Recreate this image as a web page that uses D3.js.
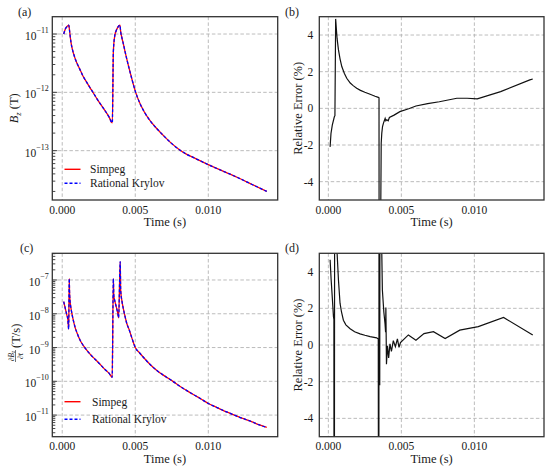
<!DOCTYPE html>
<html><head><meta charset="utf-8">
<script src="https://cdn.jsdelivr.net/npm/d3@7"></script>
<style>
body{margin:0;background:#fff}
svg{display:block}
</style>
</head><body>
<svg id="chart" width="550" height="468" font-family="Liberation Serif"></svg>
<script>
// ---------- data ----------
const xTickValues = [0, 0.005, 0.010];
const errTickValues = [4, 2, 0, -2, -4];
const legendLabels = ["Simpeg", "Rational Krylov"];
const panelLetters = ["(a)", "(b)", "(c)", "(d)"];

// (a) Bz (T)
const timeA = [0.0001,0.0002,0.0003,0.0004,0.00045,0.0005,0.00055,0.0006,0.0007,0.0008,0.0009,0.001,0.0012,0.0014,0.0017,0.002,0.0024,0.0028,0.0032,0.00343,
  0.0035,0.0036,0.0037,0.0038,0.0039,0.00395,0.004,0.0041,0.0042,0.0043,0.0044,0.0046,0.0048,0.005,0.0053,0.0056,0.006,0.0065,0.007,0.0075,0.008,0.0085,
  0.009,0.0095,0.010,0.011,0.012,0.013,0.014];
const bzSimpeg = [1.0e-11,1.2e-11,1.32e-11,1.4e-11,1.42e-11,1.15e-11,8.9e-12,7.2e-12,5.4e-12,4.4e-12,3.7e-12,3.2e-12,2.5e-12,1.95e-12,1.45e-12,1.1e-12,7.6e-13,5.4e-13,3.8e-13,3.0e-13,
  5e-12,9.5e-12,1.15e-11,1.3e-11,1.4e-11,1.42e-11,1.1e-11,8.3e-12,6.5e-12,5.0e-12,3.9e-12,2.45e-12,1.58e-12,1.05e-12,6.6e-13,4.7e-13,3.3e-13,2.35e-13,1.74e-13,1.32e-13,1.05e-13,8.7e-14,
  7.6e-14,6.6e-14,5.75e-14,4.47e-14,3.47e-14,2.63e-14,2.0e-14];
const bzKrylov = [1.0e-11,1.2e-11,1.32e-11,1.4e-11,1.42e-11,1.15e-11,8.9e-12,7.2e-12,5.4e-12,4.4e-12,3.7e-12,3.2e-12,2.5e-12,1.95e-12,1.45e-12,1.1e-12,7.6e-13,5.4e-13,3.8e-13,3.0e-13,
  5e-12,9.5e-12,1.15e-11,1.3e-11,1.4e-11,1.42e-11,1.1e-11,8.3e-12,6.5e-12,5.0e-12,3.9e-12,2.45e-12,1.58e-12,1.05e-12,6.6e-13,4.7e-13,3.3e-13,2.35e-13,1.74e-13,1.32e-13,1.05e-13,8.7e-14,
  7.6e-14,6.6e-14,5.75e-14,4.47e-14,3.47e-14,2.63e-14,2.0e-14];

// (b) relative error of Bz (%)
const timeB = [0.00012,0.00018,0.00027,0.00041,0.00045,0.0005,0.00057,0.0006,0.00069,0.0008,0.00092,0.0011,0.00126,0.0015,0.0017,0.00194,0.0022,0.0025,0.00286,0.0032,
  0.00342,0.00347,0.00349,0.00359,0.00362,0.00366,0.00371,0.00377,0.00382,0.00389,0.00394,0.004,0.0041,0.00418,0.0045,0.0049,0.0055,0.006,0.0068,0.0076,0.0088,
  0.0095,0.0102,0.0118,0.0138,0.014];
const errB = [-2.1,-1.37,-0.92,-0.46,-0.4,4.88,4.1,3.8,3.2,2.7,2.28,1.9,1.64,1.38,1.24,1.1,0.98,0.88,0.77,0.66,
  0.6,0.57,-30,-5.5,-1.9,-1.35,-1.0,-0.82,-0.7,-0.55,-0.68,-0.62,-0.68,-0.5,-0.37,-0.18,-0.02,0.13,0.26,0.36,0.55,
  0.55,0.52,0.91,1.55,1.6];

// (c) dBz/dt (T/s)
const timeC = [0.0001,0.00032,0.00038,0.00044,0.00048,0.0005,0.00053,0.00056,0.0006,0.0007,0.0008,0.0009,0.001,0.0012,0.00135,0.0016,0.0018,0.0021,0.0025,0.0029,0.0032,0.00342,
  0.0035,0.00353,0.0036,0.0037,0.0038,0.00386,0.00397,0.004,0.0041,0.0042,0.0043,0.0044,0.0046,0.0048,0.005,0.0053,0.0056,0.006,0.0065,0.007,0.0076,0.008,0.0085,0.009,
  0.0095,0.010,0.0105,0.011,0.0115,0.012,0.0125,0.013,0.0135,0.014];
const dbdtSimpeg = [2.3e-8,9e-9,7e-9,3.5e-9,1.1e-7,4.5e-8,2.5e-8,1.9e-8,1.45e-8,8.3e-9,5.4e-9,3.7e-9,2.8e-9,1.74e-9,1.32e-9,9.3e-10,7.2e-10,5.2e-10,3.5e-10,2.3e-10,1.74e-10,1.32e-10,
  1.1e-7,3.5e-8,2.4e-8,1.6e-8,1.05e-8,7.6e-9,3.5e-7,5e-8,2.2e-8,1.3e-8,8.3e-9,5.5e-9,3.2e-9,1.74e-9,1.0e-9,6.9e-10,4.9e-10,3.2e-10,2.05e-10,1.45e-10,9.8e-11,7.4e-11,5.4e-11,4.0e-11,
  3.0e-11,2.2e-11,1.74e-11,1.38e-11,1.12e-11,9.1e-12,7.6e-12,6.3e-12,5.1e-12,4.3e-12];
const dbdtKrylov = [2.3e-8,9e-9,7e-9,3.5e-9,1.1e-7,4.5e-8,2.5e-8,1.9e-8,1.45e-8,8.3e-9,5.4e-9,3.7e-9,2.8e-9,1.74e-9,1.32e-9,9.3e-10,7.2e-10,5.2e-10,3.5e-10,2.3e-10,1.74e-10,1.32e-10,
  1.1e-7,3.5e-8,2.4e-8,1.6e-8,1.05e-8,7.6e-9,3.5e-7,5e-8,2.2e-8,1.3e-8,8.3e-9,5.5e-9,3.2e-9,1.74e-9,1.0e-9,6.9e-10,4.9e-10,3.2e-10,2.05e-10,1.45e-10,9.8e-11,7.4e-11,5.4e-11,4.0e-11,
  3.0e-11,2.2e-11,1.74e-11,1.38e-11,1.12e-11,9.1e-12,7.6e-12,6.3e-12,5.1e-12,4.3e-12];

// (d) relative error of dBz/dt (%)
const timeD = [0.00012,0.00019,0.00028,0.00035,0.00038,0.0004,0.00042,0.00045,0.00052,0.0006,0.00069,0.0008,0.0009,0.00103,0.0012,0.00149,0.0018,0.00217,0.0025,0.00286,0.00331,
  0.00342,0.00345,0.00348,0.00352,0.00356,0.0036,0.0037,0.0038,0.00388,0.00392,0.00394,0.00398,0.00405,0.00413,0.00422,0.00432,0.00445,0.00459,0.00473,0.00484,0.00494,
  0.00548,0.006,0.00655,0.0072,0.008,0.009,0.01027,0.012,0.014];
const errD = [4.65,3.57,2.46,1.54,1.4,-30,-2.5,30,8,5.0,3.57,2.28,1.8,1.35,1.1,0.89,0.72,0.61,0.53,0.46,0.39,
  0.33,-30,30,-2.2,30,8,3.0,1.8,1.17,0.7,2.05,-1.05,-0.04,-0.7,0.06,-0.35,0.24,-0.09,0.33,-0.13,0.13,
  0.55,0.26,0.62,0.73,0.35,0.81,1.0,1.5,0.55];

// ---------- drawing ----------
const svg = d3.select("#chart");
const FRAME = "#333";
const GRID = "#b4b4b4";
const INK = "#1a1a1a";
const FONT = "Liberation Serif";

const boxes = {
  a: {x0: 52.3, x1: 277.7, y0: 16.7, y1: 200},
  b: {x0: 319.3, x1: 544, y0: 16.7, y1: 200},
  c: {x0: 52.3, x1: 277.7, y0: 253.3, y1: 436.7},
  d: {x0: 319.3, x1: 544, y0: 253.3, y1: 436.7}
};

function txt(sel) {
  return sel.append("text").attr("fill", INK).attr("font-family", FONT);
}

function xScaleFor(b, dom) {
  return d3.scaleLinear().domain(dom).range([b.x0, b.x1]);
}

let clipId = 0;
function basePanel(b, x, y, yTicks, letter, letterX) {
  const g = svg.append("g");
  g.selectAll(".gx").data(xTickValues).join("line")
    .attr("x1", d => x(d)).attr("x2", d => x(d)).attr("y1", b.y0).attr("y2", b.y1)
    .attr("stroke", GRID).attr("stroke-width", 0.9).attr("stroke-dasharray", "3.5,2.2");
  g.selectAll(".gy").data(yTicks).join("line")
    .attr("x1", b.x0).attr("x2", b.x1).attr("y1", d => y(d)).attr("y2", d => y(d))
    .attr("stroke", GRID).attr("stroke-width", 0.9).attr("stroke-dasharray", "3.5,2.2");
  xTickValues.forEach(d => {
    txt(g).attr("x", x(d)).attr("y", b.y1 + 13.5).attr("text-anchor", "middle")
      .attr("font-size", 11.5).text(d3.format(".3f")(d));
  });
  txt(g).attr("x", (b.x0 + b.x1) / 2).attr("y", b.y1 + 26)
    .attr("text-anchor", "middle").attr("font-size", 12.5).text("Time (s)");
  txt(g).attr("x", letterX).attr("y", b.y0 - 1).attr("font-size", 12).text(letter);
  const id = "clip" + (clipId++);
  svg.append("clipPath").attr("id", id).append("rect")
    .attr("x", b.x0).attr("y", b.y0).attr("width", b.x1 - b.x0).attr("height", b.y1 - b.y0);
  const plot = svg.append("g").attr("clip-path", `url(#${id})`);
  return {g, plot};
}

function frame(b, y, isLog) {
  const g = svg.append("g");
  if (isLog) {
    const [lo, hi] = y.domain();
    const kLo = Math.floor(Math.log10(lo)), kHi = Math.ceil(Math.log10(hi));
    for (let k = kLo; k <= kHi; k++) {
      for (let m = 1; m <= 9; m++) {
        const v = m * Math.pow(10, k);
        if (v < lo || v > hi) continue;
        const len = m === 1 ? 5 : 3;
        g.append("line").attr("x1", b.x0).attr("x2", b.x0 + len)
          .attr("y1", y(v)).attr("y2", y(v)).attr("stroke", FRAME).attr("stroke-width", 0.9);
      }
    }
  }
  g.append("rect").attr("x", b.x0).attr("y", b.y0)
    .attr("width", b.x1 - b.x0).attr("height", b.y1 - b.y0)
    .attr("fill", "none").attr("stroke", FRAME).attr("stroke-width", 1.3);
}

function logLabels(g, b, y, exps) {
  exps.forEach(k => {
    const t = txt(g).attr("x", b.x0 - 3.5).attr("y", y(Math.pow(10, k)) + 6)
      .attr("text-anchor", "end");
    t.append("tspan").attr("font-size", 11.5).text("10");
    t.append("tspan").attr("font-size", 8).attr("dy", -7).text("\u2212" + Math.abs(k));
  });
}

function linLabels(g, b, y) {
  errTickValues.forEach(d => {
    txt(g).attr("x", b.x0 - 6).attr("y", y(d) + 4).attr("text-anchor", "end")
      .attr("font-size", 11.5).text(String(d));
  });
}

function legend(g, x0, yA, yB, textX) {
  g.append("line").attr("x1", x0).attr("x2", x0 + 16).attr("y1", yA).attr("y2", yA)
    .attr("stroke", "red").attr("stroke-width", 1.4);
  g.append("line").attr("x1", x0).attr("x2", x0 + 16).attr("y1", yB).attr("y2", yB)
    .attr("stroke", "blue").attr("stroke-width", 1.4).attr("stroke-dasharray", "3,2");
  txt(g).attr("x", textX).attr("y", yA + 4).attr("font-size", 11.5).text(legendLabels[0]);
  txt(g).attr("x", textX).attr("y", yB + 4).attr("font-size", 11.5).text(legendLabels[1]);
}

function pairLines(plot, x, y, t, s1, s2) {
  const line = d3.line().x(d => x(d[0])).y(d => y(d[1])).curve(d3.curveMonotoneX);
  plot.append("path").datum(t.map((d, i) => [d, s1[i]])).attr("d", line)
    .attr("fill", "none").attr("stroke", "red").attr("stroke-width", 1.3);
  plot.append("path").datum(t.map((d, i) => [d, s2[i]])).attr("d", line)
    .attr("fill", "none").attr("stroke", "blue").attr("stroke-width", 1.3).attr("stroke-dasharray", "3,2");
}

function errLine(plot, x, y, t, v) {
  const line = d3.line().x(d => x(d[0])).y(d => y(d[1]));
  plot.append("path").datum(t.map((d, i) => [d, v[i]])).attr("d", line)
    .attr("fill", "none").attr("stroke", "#111").attr("stroke-width", 1.2);
}

function yLabelBz(b) {
  const g = svg.append("g").attr("transform", `translate(18,${(b.y0 + b.y1) / 2}) rotate(-90)`);
  const t = txt(g).attr("text-anchor", "middle").attr("font-size", 12.5);
  t.append("tspan").attr("font-style", "italic").text("B");
  t.append("tspan").attr("font-style", "italic").attr("font-size", 8.5).attr("dy", 3).text("z");
  t.append("tspan").attr("dy", -3).text(" (T)");
}

function yLabelDbdt(b) {
  const g = svg.append("g").attr("transform", `translate(16,${(b.y0 + b.y1) / 2 - 2}) rotate(-90)`);
  const fx = -13;
  const num = txt(g).attr("x", fx).attr("y", -2.5).attr("text-anchor", "middle").attr("font-size", 7.5);
  num.append("tspan").text("\u2202");
  num.append("tspan").attr("font-style", "italic").text("B");
  num.append("tspan").attr("font-style", "italic").attr("font-size", 5.5).attr("dy", 1.5).text("z");
  g.append("line").attr("x1", fx - 6).attr("x2", fx + 6).attr("y1", -0.5).attr("y2", -0.5)
    .attr("stroke", INK).attr("stroke-width", 0.6);
  const den = txt(g).attr("x", fx).attr("y", 6.5).attr("text-anchor", "middle").attr("font-size", 7.5);
  den.append("tspan").text("\u2202");
  den.append("tspan").attr("font-style", "italic").text("t");
  txt(g).attr("x", -5).attr("y", 3.5).attr("font-size", 12.5).text("(T/s)");
}

function yLabelErr(b) {
  txt(svg).attr("transform", `translate(302,${(b.y0 + b.y1) / 2}) rotate(-90)`)
    .attr("text-anchor", "middle").attr("font-size", 12.5).text("Relative Error (%)");
}

// panel (a)
{
  const b = boxes.a;
  const x = xScaleFor(b, [-0.00068, 0.01475]);
  const y = d3.scaleLog().domain([Math.pow(10, -13.846), Math.pow(10, -10.703)]).range([b.y1, b.y0]);
  const exps = [-11, -12, -13];
  const {g, plot} = basePanel(b, x, y, exps.map(k => Math.pow(10, k)), panelLetters[0], 18);
  logLabels(g, b, y, exps);
  pairLines(plot, x, y, timeA, bzSimpeg, bzKrylov);
  legend(svg.append("g"), 64.5, 169.3, 183.3, 90);
  frame(b, y, true);
  yLabelBz(b);
}
// panel (b)
{
  const b = boxes.b;
  const x = xScaleFor(b, [-0.00062, 0.01477]);
  const y = d3.scaleLinear().domain([-5, 5]).range([b.y1, b.y0]);
  const {g, plot} = basePanel(b, x, y, errTickValues, panelLetters[1], 285);
  linLabels(g, b, y);
  errLine(plot, x, y, timeB, errB);
  frame(b, y, false);
  yLabelErr(b);
}
// panel (c)
{
  const b = boxes.c;
  const x = xScaleFor(b, [-0.00068, 0.01475]);
  const y = d3.scaleLog().domain([Math.pow(10, -11.64), Math.pow(10, -6.21)]).range([b.y1, b.y0]);
  const exps = [-7, -8, -9, -10, -11];
  const {g, plot} = basePanel(b, x, y, exps.map(k => Math.pow(10, k)), panelLetters[2], 20);
  logLabels(g, b, y, exps);
  pairLines(plot, x, y, timeC, dbdtSimpeg, dbdtKrylov);
  legend(svg.append("g"), 64.5, 401.7, 419.3, 92);
  frame(b, y, true);
  yLabelDbdt(b);
}
// panel (d)
{
  const b = boxes.d;
  const x = xScaleFor(b, [-0.00062, 0.01477]);
  const y = d3.scaleLinear().domain([-5, 5]).range([b.y1, b.y0]);
  const {g, plot} = basePanel(b, x, y, errTickValues, panelLetters[3], 285);
  linLabels(g, b, y);
  errLine(plot, x, y, timeD, errD);
  frame(b, y, false);
  yLabelErr(b);
}
</script>
</body></html>
